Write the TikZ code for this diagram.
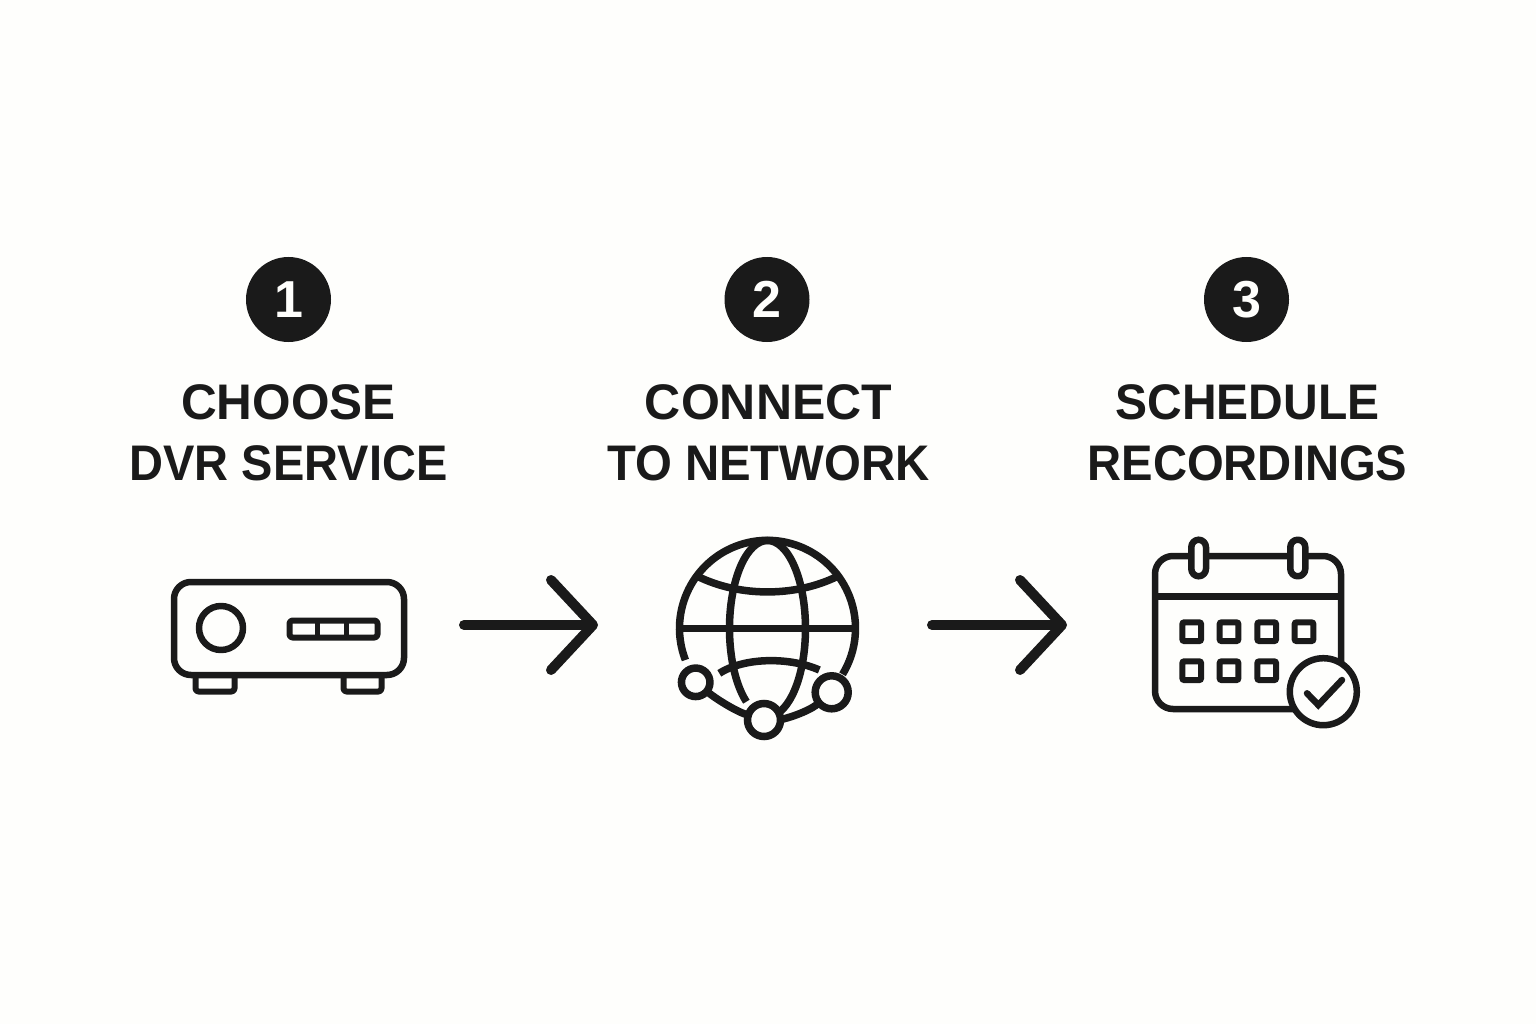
\documentclass[tikz,border=0pt]{standalone}
\usepackage{fontspec}
\setmainfont{Liberation Sans}
\usetikzlibrary{arrows.meta}
\definecolor{ink}{HTML}{1A1A1A}
\definecolor{paper}{HTML}{FEFEFC}
\newcommand{\sq}[2]{\scalebox{#1}[1]{#2}}
\tikzset{
  numdisc/.style={circle,fill=ink,minimum size=85pt,inner sep=0pt,text=paper,font=\fontsize{52}{52}\selectfont\bfseries},
  steptext/.style={align=center,inner sep=0pt,text=ink,font=\fontsize{50}{61}\selectfont\bfseries},
  icon/.style={draw=ink,line width=6.5pt,line join=round},
  flowarrow/.style={draw=ink,line width=10pt,line cap=round,-{Straight Barb[length=42pt,width=90pt,round,line width=10pt]}},
  globeline/.style={draw=ink,line width=7.5pt},
  hub/.style={draw=ink,line width=7.5pt,fill=paper,circle,inner sep=0pt},
  cell/.style={draw=ink,line width=6pt,rounded corners=2pt},
}
\begin{document}
\begin{tikzpicture}[x=1pt,y=-1pt]
\useasboundingbox (0,0) rectangle (1536,1024);
\fill[paper] (0,0) rectangle (1536,1024);
% numbers
\node[numdisc] (n1) at (288.5,299.5) {1};
\node[numdisc] (n2) at (767,299.5) {2};
\node[numdisc] (n3) at (1246.5,299.5) {3};
% captions
\node[steptext] (t1) at (288.5,432.5) {\sq{0.99}{CHOOSE}\\\sq{0.94}{DVR SERVICE}};
\node[steptext] (t2) at (768.5,432.5) {\sq{1}{CONNECT}\\\sq{0.947}{TO NETWORK}};
\node[steptext] (t3) at (1247.5,432.5) {\sq{0.96}{SCHEDULE}\\\sq{0.944}{RECORDINGS}};
% DVR
\draw[icon,rounded corners=3pt,line width=6pt] (195.5,678) -- (195.5,691.5) -- (234.5,691.5) -- (234.5,678);
\draw[icon,rounded corners=3pt,line width=6pt] (343.5,678) -- (343.5,691.5) -- (381.5,691.5) -- (381.5,678);
\draw[icon,rounded corners=17pt] (174,582) rectangle (404,675);
\node[icon,circle,minimum size=44pt,inner sep=0pt] (knob) at (221,628) {};
\draw[icon,line width=6pt,rounded corners=3pt] (289.5,620.5) rectangle (377.5,637.5);
\draw[icon,line width=5.5pt] (317.7,620.5) -- (317.7,637.5) (346.7,620.5) -- (346.7,637.5);
% arrows
\coordinate (a1s) at (464,625);
\coordinate (a1e) at (598,625);
\coordinate (a2s) at (932,625);
\coordinate (a2e) at (1067,625);
\draw[flowarrow] (a1s) -- (a1e);
\draw[flowarrow] (a2s) -- (a2e);
% globe
\draw[globeline] (685.4,660) arc[start angle=158.9,end angle=391.5,radius=88];
\draw[globeline] (679.5,628.5) -- (855.5,628.5);
\draw[globeline] (698.3,576.7) .. controls (740,597) and (795,597) .. (836.7,576.7);
\draw[globeline] (719.3,673.3) .. controls (745,657) and (790,657) .. (819.3,670);
\draw[globeline] (746.4,701.7) arc[start angle=123.7,end angle=435,x radius=38,y radius=88];
\node[hub,minimum size=28.5pt] (h1) at (695.7,682.3) {};
\node[hub,minimum size=33pt] (h2) at (764,720) {};
\node[hub,minimum size=33pt] (h3) at (831.7,692.3) {};
\draw[globeline,shorten <=16pt,shorten >=18pt] (h1.center) .. controls (715,698) and (735,711) .. (h2.center);
\draw[globeline,shorten <=18pt,shorten >=18pt] (h2.center) .. controls (785,719) and (808,712) .. (h3.center);
% calendar
\draw[icon,rounded corners=18pt] (1155,556) rectangle (1341,709);
\draw[icon] (1155,596.7) -- (1341,596.7);
\draw[icon,fill=paper,rounded corners=7.5pt] (1191.3,539.7) rectangle (1206,576.3);
\draw[icon,fill=paper,rounded corners=7.5pt] (1290.3,539.7) rectangle (1305.3,576.3);
\foreach \px/\py in {1191.7/631.7,1229/631.7,1266.7/631.7,1304/631.7,1191.7/670.7,1229/670.7,1266.7/670.7}{
  \draw[cell] (\px-9.4,\py-9.4) rectangle (\px+9.4,\py+9.4);
}
\node[icon,circle,fill=paper,minimum size=67pt,inner sep=0pt] (badge) at (1323.3,691.7) {};
\draw[draw=ink,line width=6.5pt,line cap=round,line join=miter] (1307,693.3) -- (1318.3,705) -- (1342,680);
\end{tikzpicture}
\end{document}
